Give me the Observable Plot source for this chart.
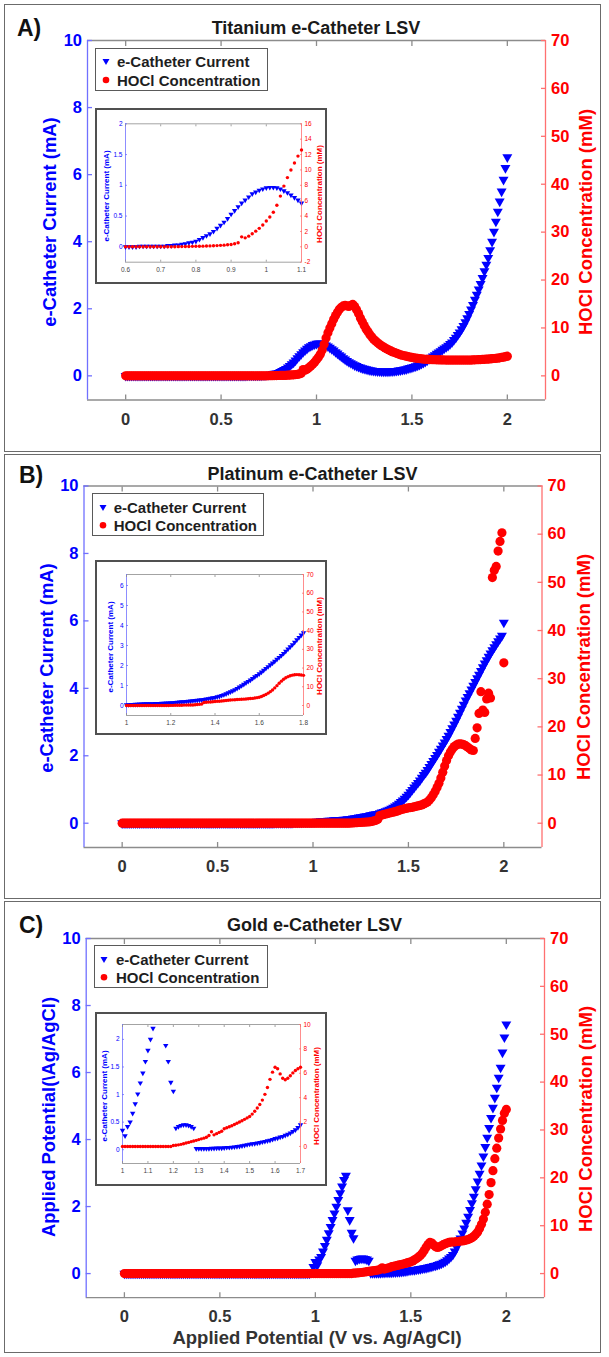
<!DOCTYPE html>
<html><head><meta charset="utf-8">
<script src="https://cdn.jsdelivr.net/npm/d3@7"></script>
<script src="https://cdn.jsdelivr.net/npm/@observablehq/plot@0.6"></script>
<style>
html,body{margin:0;padding:0;background:#fff;}
#root{position:relative;width:609px;height:1357px;overflow:hidden;background:#fff;font-family:"Liberation Sans",Arial,Helvetica,sans-serif;}
#root svg{overflow:visible;}
</style></head>
<body><div id="root"></div>
<script>
// ---------------- DATA ----------------
// LSV sweep: 0 V to 2 V in 0.01 V steps (index i -> i * sweepStep volts)
const sweepStep = 0.01;

// Titanium e-catheter: current (mA) and HOCl (mM)
const tiCurrent = [
0,0,0,0,0,0,0,0,0,0, 0,0,0,0,0,0,0,0,0,0, 0,0,0,0,0,0,0,0,0,0,
0,0,0,0,0,0,0,0,0,0, 0,0,0,0,0,0,0,0,0,0, 0,0,0,0,0,0,0,0,0,0,
0,0,0,0,0.01,0.01,0.01,0.01,0.01,0.01,
0.01,0.01,0.02,0.02,0.03,0.03,0.04,0.05,0.065,0.075,
0.09,0.12,0.15,0.18,0.21,0.25,0.3,0.35,0.4,0.46,
0.53,0.59,0.65,0.71,0.76,0.81,0.86,0.89,0.92,0.94,
0.96,0.965,0.965,0.96,0.94,0.91,0.88,0.84,0.8,0.76,
0.71,0.67,0.62,0.58,0.53,0.49,0.45,0.41,0.38,0.35,
0.32,0.295,0.27,0.25,0.23,0.215,0.2,0.185,0.17,0.16,
0.15,0.145,0.14,0.135,0.13,0.13,0.13,0.13,0.13,0.135,
0.14,0.145,0.15,0.16,0.17,0.18,0.19,0.2,0.22,0.235,
0.25,0.27,0.29,0.31,0.33,0.36,0.39,0.42,0.46,0.5,
0.54,0.58,0.62,0.66,0.7,0.74,0.78,0.82,0.86,0.9,
0.95,1,1.07,1.14,1.22,1.3,1.39,1.49,1.6,1.72,
1.85,1.98,2.12,2.27,2.42,2.58,2.74,2.92,3.12,3.32,
3.52,3.75,4,4.3,4.6,4.9,5.2,5.5,5.85,6.2,
6.52];
const tiHOCl = [
0,0,0,0,0,0,0,0,0,0, 0,0,0,0,0,0,0,0,0,0, 0,0,0,0,0,0,0,0,0,0,
0,0,0,0,0,0,0,0,0,0, 0,0,0,0,0,0,0,0,0,0, 0,0,0,0,0,0,0,0,0,0,
0,0,0,0,0,0,0,0,0,0,
0,0,0,0,0,0.02,0.03,0.04,0.05,0.06,
0.07,0.08,0.09,0.1,0.12,0.14,0.16,0.19,0.22,0.26,
0.3,0.4,0.52,1.3,1.17,1.39,1.7,2.04,2.4,2.83,
3.35,3.87,4.5,5.4,6.6,7.9,9,10,10.9,11.8,
12.6,13.3,13.9,14.3,14.6,14.7,14.6,14.5,14.7,14.9,
14.5,13.8,13,12.1,11.3,10.5,9.8,9.2,8.6,8.1,
7.6,7.25,6.9,6.6,6.3,6.05,5.8,5.6,5.4,5.2,
5,4.85,4.7,4.55,4.4,4.3,4.2,4.1,4,3.92,
3.85,3.78,3.7,3.65,3.6,3.55,3.5,3.47,3.45,3.42,
3.4,3.38,3.36,3.35,3.34,3.33,3.32,3.31,3.3,3.3,
3.3,3.3,3.3,3.3,3.3,3.3,3.3,3.3,3.3,3.3,
3.3,3.3,3.32,3.34,3.36,3.38,3.4,3.42,3.45,3.48,
3.5,3.54,3.58,3.62,3.66,3.7,3.76,3.84,3.9,4,
4.1];

// Platinum e-catheter
const ptCurrent = [
0,0,0,0,0,0,0,0,0,0, 0,0,0,0,0,0,0,0,0,0, 0,0,0,0,0,0,0,0,0,0,
0,0,0,0,0,0,0,0,0,0, 0,0,0,0,0,0,0,0,0,0, 0,0,0,0,0,0,0,0,0,0,
0,0,0,0,0,0,0,0,0,0, 0,0,0,0,0,0,0,0,0,0,
0.01,0.01,0.01,0.01,0.01,0.01,0.01,0.01,0.01,0.01,
0.02,0.02,0.02,0.02,0.02,0.03,0.03,0.03,0.03,0.03,
0.04,0.04,0.05,0.05,0.06,0.06,0.07,0.07,0.08,0.08,
0.08,0.09,0.09,0.1,0.1,0.1,0.11,0.11,0.12,0.12,
0.13,0.14,0.15,0.16,0.17,0.18,0.19,0.2,0.21,0.22,
0.24,0.25,0.26,0.27,0.28,0.3,0.32,0.34,0.36,0.38,
0.4,0.43,0.46,0.5,0.54,0.58,0.63,0.68,0.73,0.79,
0.85,0.92,0.99,1.06,1.13,1.2,1.27,1.35,1.43,1.5,
1.58,1.67,1.76,1.85,1.94,2.03,2.12,2.21,2.31,2.4,
2.5,2.6,2.71,2.82,2.93,3.04,3.16,3.28,3.4,3.52,
3.64,3.75,3.86,3.97,4.08,4.19,4.3,4.41,4.52,4.63,
4.74,4.84,4.94,5.04,5.13,5.22,5.31,5.4,5.48,5.56,
5.95];
const ptHOCl = [
0,0,0,0,0,0,0,0,0,0, 0,0,0,0,0,0,0,0,0,0, 0,0,0,0,0,0,0,0,0,0,
0,0,0,0,0,0,0,0,0,0, 0,0,0,0,0,0,0,0,0,0, 0,0,0,0,0,0,0,0,0,0,
0,0,0,0,0,0,0,0,0,0, 0,0,0,0,0,0,0,0,0,0, 0,0,0,0,0,0,0,0,0,0,
0,0,0,0,0,0,0,0,0,0, 0,0,0,0,0,0,0,0,0,0, 0,0,0,0,0,0,0,0,0,0,
0.05,0.05,0.1,0.1,0.15,0.15,0.2,0.2,0.25,0.25,
0.3,0.4,0.5,0.6,0.8,1.6,1.7,1.8,1.9,2,
2.1,2.2,2.3,2.4,2.5,2.65,2.8,2.9,3,3.1,
3.2,3.25,3.3,3.4,3.5,3.6,3.7,3.8,4,4.2,
4.4,4.8,5.3,5.9,6.6,7.4,8.3,9.4,10.6,11.9,
13,14,14.8,15.4,15.9,16.2,16.4,16.5,16.4,16.3,
16.1,15.8,15.5,15.2,15.1,17.6,19.8,22.8,27.3,23.5,
23,25.8,27,26,51,52.5,53.3,56.5,58.5,60.3,
33.3];

// Gold e-catheter
const auCurrent = [
0,0,0,0,0,0,0,0,0,0, 0,0,0,0,0,0,0,0,0,0, 0,0,0,0,0,0,0,0,0,0,
0,0,0,0,0,0,0,0,0,0, 0,0,0,0,0,0,0,0,0,0, 0,0,0,0,0,0,0,0,0,0,
0,0,0,0,0,0,0,0,0,0, 0,0,0,0,0,0,0,0,0,0, 0,0,0,0,0,0,0,0,0,0,
0,0,0,0,0,0,0,0,0.05,0.2,
0.35,0.25,0.42,0.5,0.66,0.83,1.01,1.21,1.39,1.6,
1.8,2,2.2,2.4,2.6,2.8,2.92,1.89,1.6,1.22,
1.06,0.39,0.42,0.44,0.45,0.45,0.44,0.42,0.39,0.02,
0.02,0.02,0.02,0.02,0.02,0.025,0.025,0.03,0.03,0.03,
0.035,0.04,0.04,0.045,0.05,0.055,0.06,0.07,0.08,0.09,
0.1,0.105,0.11,0.12,0.13,0.14,0.15,0.16,0.17,0.185,
0.2,0.21,0.23,0.24,0.26,0.28,0.3,0.33,0.36,0.4,
0.45,0.5,0.56,0.66,0.78,0.9,1.05,1.2,1.35,1.52,
1.7,1.9,2.1,2.3,2.52,2.75,2.98,3.23,3.5,3.78,
4.06,4.35,4.65,4.95,5.25,5.55,5.85,6.15,6.6,7.05,
7.44];
const auHOCl = [
0,0,0,0,0,0,0,0,0,0, 0,0,0,0,0,0,0,0,0,0, 0,0,0,0,0,0,0,0,0,0,
0,0,0,0,0,0,0,0,0,0, 0,0,0,0,0,0,0,0,0,0, 0,0,0,0,0,0,0,0,0,0,
0,0,0,0,0,0,0,0,0,0, 0,0,0,0,0,0,0,0,0,0, 0,0,0,0,0,0,0,0,0,0,
0,0,0,0,0,0,0,0,0,0, 0,0,0,0,0,0,0,0,0,0, 0,0,0,0,0,0,0,0,0,0,
0.08,0.1,0.13,0.17,0.22,0.28,0.33,0.39,0.45,0.5,
0.56,0.62,0.68,0.75,0.9,1.2,0.95,1.05,1.15,1.25,
1.45,1.53,1.61,1.7,1.8,1.9,2,2.1,2.22,2.34,
2.46,2.65,2.88,3.15,3.44,3.8,4.27,4.83,5.5,6.09,
6.5,6.37,5.95,5.59,5.47,5.59,5.8,6.03,6.23,6.37,
6.5,6.6,6.6,6.6,6.7,6.7,6.8,6.8,6.9,7,
7.1,7.3,7.5,7.8,8.2,8.7,9.4,10.3,11.4,12.8,
14.5,16.5,19,21.5,24,26.2,28.3,30.2,32,33.5,
34.3];

// ticks and labels
const xTicks = [0, 0.5, 1, 1.5, 2];
const currentTicks = [0, 2, 4, 6, 8, 10];
const hoclTicks = [0, 10, 20, 30, 40, 50, 60, 70];
const insetTiX = [0.6, 0.7, 0.8, 0.9, 1, 1.1];
const insetTiCur = [0, 0.5, 1, 1.5, 2];
const insetTiHOCl = [-2, 0, 2, 4, 6, 8, 10, 12, 14, 16];
const insetPtX = [1, 1.2, 1.4, 1.6, 1.8];
const insetPtCur = [0, 1, 2, 3, 4, 5, 6];
const insetPtHOCl = [0, 10, 20, 30, 40, 50, 60, 70];
const insetAuX = [1, 1.1, 1.2, 1.3, 1.4, 1.5, 1.6, 1.7];
const insetAuCur = [0, 0.5, 1, 1.5, 2];
const insetAuHOCl = [0, 2, 4, 6, 8, 10];
const legendLabels = ["e-Catheter Current", "HOCl Concentration"];
const panelTitles = ["Titanium e-Catheter LSV", "Platinum e-Catheter LSV", "Gold e-Catheter LSV"];
const panelLetters = ["A)", "B)", "C)"];
const currentLabel = "e-Catheter Current (mA)";
const hoclLabel = "HOCl Concentration (mM)";
const goldLeftLabel = "Applied Potential(\\Ag/AgCl)";
const xAxisLabel = "Applied Potential (V vs. Ag/AgCl)";

// ---------------- DRAWING ----------------
const root = document.getElementById("root");
const W = 609;
const FONT = '"Liberation Sans", Arial, Helvetica, sans-serif';
const BLUE = "#0000ff", RED = "#ff0000";
const BLUE_LINE = "#7070ff", RED_LINE = "#ff7070", GRAY_LINE = "#8c8c8c";

const triDown = {draw(ctx, size) {
  const s = Math.sqrt(size / (Math.sqrt(3) / 4)), h = s * Math.sqrt(3) / 2;
  ctx.moveTo(-s / 2, -h / 3); ctx.lineTo(s / 2, -h / 3); ctx.lineTo(0, 2 * h / 3); ctx.closePath();
}};

function put(node, x, y) {
  node.style.position = "absolute"; node.style.left = x + "px"; node.style.top = y + "px";
  root.appendChild(node); return node;
}
function rectDiv(x0, y0, x1, y1, border, bg) {
  const d = document.createElement("div");
  Object.assign(d.style, {position: "absolute", left: x0 + "px", top: y0 + "px", width: (x1 - x0) + "px",
    height: (y1 - y0) + "px", border, background: bg, boxSizing: "border-box"});
  root.appendChild(d); return d;
}
function label(str, cx, cy, style, rotate, anchorLeft) {
  const d = document.createElement("div");
  d.textContent = str;
  Object.assign(d.style, {position: "absolute", left: cx + "px", top: cy + "px", whiteSpace: "nowrap",
    lineHeight: "1", fontFamily: FONT,
    transform: (anchorLeft ? "translate(0,-50%)" : "translate(-50%,-50%)") + (rotate ? " rotate(-90deg)" : "")}, style);
  root.appendChild(d); return d;
}

function layer(o) {
  const {top, height, frame, xDomain, yDomain, side, rows, key, small, xT, yT} = o;
  const [L, T, R, B] = frame;
  const left = side === "left";
  const sw = small ? 0.8 : 1.3;
  const ts = small ? -2 : -5;
  const fs = small ? 6.5 : 16.5;
  const fw = small ? "normal" : "bold";
  const fmt = d => String(d);
  const data = rows.filter(d => d.v >= xDomain[0] - 1e-9 && d.v <= xDomain[1] + 1e-9 &&
                                d[key] >= yDomain[0] && d[key] <= yDomain[1]);
  const marks = [];
  if (left) {
    marks.push(
      Plot.ruleY([yDomain[0]], {stroke: GRAY_LINE, strokeWidth: sw}),
      Plot.ruleY([yDomain[1]], {stroke: GRAY_LINE, strokeWidth: sw}),
      Plot.ruleX([xDomain[0]], {stroke: BLUE_LINE, strokeWidth: sw}),
      Plot.axisX({anchor: "bottom", ticks: xT, tickFormat: fmt, tickSize: ts, tickPadding: small ? 7.3 : 18,
        stroke: GRAY_LINE, strokeWidth: sw, fill: small ? "#444" : "#333", fontSize: fs, fontWeight: fw, label: null}),
      Plot.axisX({anchor: "top", ticks: xT, tickSize: ts, stroke: GRAY_LINE, strokeWidth: sw, fill: "none", label: null})
    );
  } else {
    marks.push(Plot.ruleX([xDomain[1]], {stroke: RED_LINE, strokeWidth: sw}));
  }
  marks.push(Plot.axisY({anchor: side, ticks: yT, tickFormat: fmt, tickSize: ts, tickPadding: small ? 5 : 10.5,
    stroke: left ? BLUE_LINE : RED_LINE, strokeWidth: sw, fill: left ? BLUE : RED, fontSize: fs, fontWeight: fw, label: null}));
  marks.push(Plot.dot(data, {x: "v", y: key, symbol: left ? triDown : "circle",
    r: left ? (small ? 2 : 3.7) : (small ? 1.7 : 4.6), fill: left ? BLUE : RED, stroke: "none"}));
  const opts = {width: W, height, marginLeft: L, marginRight: W - R, marginTop: T - top, marginBottom: top + height - B,
    x: {domain: xDomain}, y: {domain: yDomain},
    style: {background: "none", overflow: "visible", fontFamily: FONT}, marks};
  if (!left) opts.x.axis = null;
  return Plot.plot(opts);
}

function legend(box, rowsY, mx, tx) {
  rectDiv(box[0], box[1], box[2], box[3], "1.5px solid #5a5a5a", "#fff");
  const svg = d3.create("svg").attr("width", 16).attr("height", 60)
    .style("position", "absolute").style("left", (mx - 8) + "px").style("top", (rowsY[0] - 10) + "px");
  const s = 7, h = s * Math.sqrt(3) / 2;
  svg.append("path").attr("d", `M${8 - s / 2},${10 - h / 3}L${8 + s / 2},${10 - h / 3}L8,${10 + 2 * h / 3}Z`).attr("fill", BLUE);
  svg.append("circle").attr("cx", 8).attr("cy", 10 + rowsY[1] - rowsY[0]).attr("r", 3.3).attr("fill", RED);
  root.appendChild(svg.node());
  legendLabels.forEach((t, i) => label(t, tx, rowsY[i], {fontSize: "15px", fontWeight: "bold", color: "#1e1e1e"}, false, true));
}

const panels = [
  {border: [4, 3.5, 601, 451.5], frame: [87, 39.5, 545, 399], current: tiCurrent, hocl: tiHOCl,
   titleAt: [316, 28], letterAt: [17, 28], leftLabel: currentLabel, llAt: [50, 222], rlAt: [586, 222],
   legend: {box: [95.4, 48.3, 268, 90.7], rows: [61, 80], mx: 106, tx: 117},
   inset: {box: [95, 108, 327, 284], frame: [125, 123.3, 301, 261.7], x: [0.6, 1.1], yl: [-0.25, 2], yr: [-2, 16],
           xt: insetTiX, ylt: insetTiCur, yrt: insetTiHOCl, ll: [107, 196], rl: [319.5, 194]}},
  {border: [4, 453.5, 601, 898.5], frame: [83.5, 485, 541.5, 846.5], current: ptCurrent, hocl: ptHOCl,
   titleAt: [312.6, 473.5], letterAt: [19, 475], leftLabel: currentLabel, llAt: [46.7, 667.5], rlAt: [584.3, 667],
   legend: {box: [91.5, 492.7, 264, 536], rows: [506.7, 525], mx: 103, tx: 113.7},
   inset: {box: [95, 560, 327, 735], frame: [126, 574, 303, 715], x: [1, 1.8], yl: [-0.5, 6.55], yr: [-5.35, 70],
           xt: insetPtX, ylt: insetPtCur, yrt: insetPtHOCl, ll: [110.5, 647], rl: [320, 646]}},
  {border: [4, 900.5, 601, 1352.5], frame: [85.7, 937.5, 544, 1296.7], current: auCurrent, hocl: auHOCl,
   titleAt: [314.6, 925], letterAt: [19, 925], leftLabel: goldLeftLabel, llAt: [48.7, 1117], rlAt: [586, 1119],
   xLabelAt: [317, 1338],
   legend: {box: [93.5, 945, 268, 988.3], rows: [959, 977.3], mx: 104.4, tx: 116},
   inset: {box: [95, 1012, 327, 1186], frame: [122, 1024, 300, 1163], x: [1, 1.7], yl: [-0.25, 2.27], yr: [-1.4, 10],
           xt: insetAuX, ylt: insetAuCur, yrt: insetAuHOCl, ll: [105, 1096], rl: [316.5, 1096]}}
];

const mainY = {left: [-0.72, 10], right: [-5.04, 70]};
const mainX = [-0.2, 2.2];

panels.forEach((p, k) => {
  rectDiv(p.border[0], p.border[1], p.border[2], p.border[3], "1.5px solid #6b6b6b", "transparent");
  const rows = p.current.map((c, i) => ({v: Math.round(i * sweepStep * 100) / 100, cur: c, hocl: p.hocl[i]}));
  const top = p.border[1], height = p.border[3] - p.border[1];
  put(layer({top, height, frame: p.frame, xDomain: mainX, yDomain: mainY.left, side: "left", rows, key: "cur",
             small: false, xT: xTicks, yT: currentTicks}), 0, top);
  put(layer({top, height, frame: p.frame, xDomain: mainX, yDomain: mainY.right, side: "right", rows, key: "hocl",
             small: false, xT: xTicks, yT: hoclTicks}), 0, top);
  legend(p.legend.box, p.legend.rows, p.legend.mx, p.legend.tx);
  const q = p.inset;
  rectDiv(q.box[0], q.box[1], q.box[2], q.box[3], "2px solid #505050", "#fff");
  const itop = q.box[1], ih = q.box[3] - q.box[1];
  put(layer({top: itop, height: ih, frame: q.frame, xDomain: q.x, yDomain: q.yl, side: "left", rows, key: "cur",
             small: true, xT: q.xt, yT: q.ylt}), 0, itop);
  put(layer({top: itop, height: ih, frame: q.frame, xDomain: q.x, yDomain: q.yr, side: "right", rows, key: "hocl",
             small: true, xT: q.xt, yT: q.yrt}), 0, itop);
  label(currentLabel, q.ll[0], q.ll[1], {fontSize: "8px", fontWeight: "bold", color: BLUE}, true);
  label(hoclLabel, q.rl[0], q.rl[1], {fontSize: "8px", fontWeight: "bold", color: RED}, true);
  // titles and axis labels
  label(panelTitles[k], p.titleAt[0], p.titleAt[1], {fontSize: "18px", fontWeight: "bold", color: "#1a1a1a"});
  label(panelLetters[k], p.letterAt[0], p.letterAt[1], {fontSize: "23px", fontWeight: "bold", color: "#111"}, false, true);
  label(p.leftLabel, p.llAt[0], p.llAt[1], {fontSize: "18.4px", fontWeight: "bold", color: BLUE}, true);
  label(hoclLabel, p.rlAt[0], p.rlAt[1], {fontSize: "18.5px", fontWeight: "bold", color: RED}, true);
  if (p.xLabelAt) label(xAxisLabel, p.xLabelAt[0], p.xLabelAt[1], {fontSize: "18.5px", fontWeight: "bold", color: "#333"});
});
</script></body></html>
